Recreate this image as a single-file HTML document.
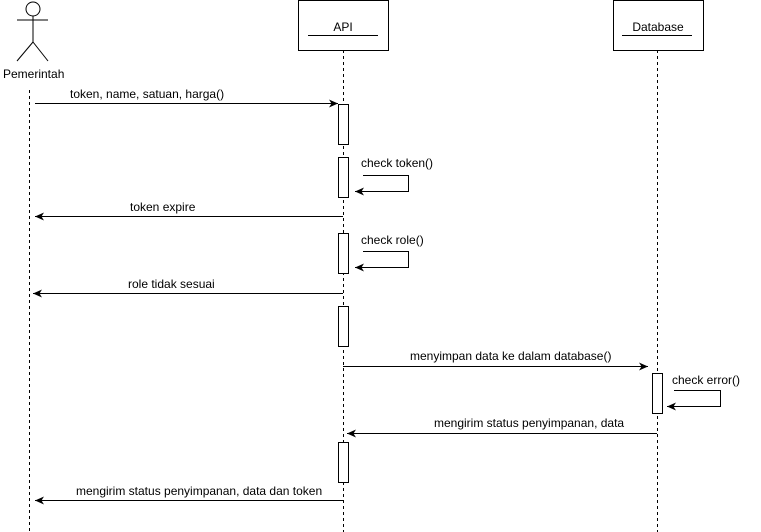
<!DOCTYPE html>
<html><head><meta charset="utf-8"><style>html,body{margin:0;padding:0;background:#fff}svg{display:block}</style></head>
<body>
<svg width="761" height="532" viewBox="0 0 761 532" xmlns="http://www.w3.org/2000/svg" font-family="Liberation Sans, Arial, sans-serif" font-size="12" fill="#000">
<defs><marker id="a" markerWidth="10" markerHeight="10" refX="9" refY="5" orient="auto" markerUnits="userSpaceOnUse"><path d="M0,1 L9,5 L0,9 L2.5,5 Z" fill="#000"/></marker></defs>
<g stroke="#000" fill="none">
<circle cx="33" cy="9" r="7"/>
<line x1="33" y1="16" x2="33" y2="42"/>
<line x1="17" y1="20" x2="48" y2="20"/>
<line x1="33" y1="42" x2="17" y2="61"/>
<line x1="33" y1="42" x2="48" y2="61"/>
<line x1="29.5" y1="90" x2="29.5" y2="532" stroke-dasharray="3,3"/>
<line x1="343.5" y1="50" x2="343.5" y2="532" stroke-dasharray="3,3"/>
<line x1="657.5" y1="50" x2="657.5" y2="532" stroke-dasharray="3,3"/>
<rect x="298.5" y="0.5" width="90" height="50" fill="#fff"/>
<line x1="308" y1="35.5" x2="378" y2="35.5"/>
<rect x="613.5" y="0.5" width="90" height="50" fill="#fff"/>
<line x1="622" y1="35.5" x2="692" y2="35.5"/>
<rect x="338.5" y="104.5" width="10" height="40" fill="#fff"/>
<rect x="338.5" y="157.5" width="10" height="40" fill="#fff"/>
<rect x="338.5" y="233.5" width="10" height="40" fill="#fff"/>
<rect x="338.5" y="306.5" width="10" height="40" fill="#fff"/>
<rect x="338.5" y="442.5" width="10" height="40" fill="#fff"/>
<rect x="652.5" y="373.5" width="10" height="40" fill="#fff"/>
<line x1="35" y1="103.5" x2="338" y2="103.5" marker-end="url(#a)"/>
<polyline points="363,175.5 408.5,175.5 408.5,191.5 355,191.5" marker-end="url(#a)"/>
<line x1="343" y1="216.5" x2="35" y2="216.5" marker-end="url(#a)"/>
<polyline points="363,251.5 408.5,251.5 408.5,267.5 355,267.5" marker-end="url(#a)"/>
<line x1="343" y1="293.5" x2="33" y2="293.5" marker-end="url(#a)"/>
<line x1="343" y1="366.5" x2="648" y2="366.5" marker-end="url(#a)"/>
<polyline points="674,390.5 720.5,390.5 720.5,406.5 667,406.5" marker-end="url(#a)"/>
<line x1="657" y1="433.5" x2="347" y2="433.5" marker-end="url(#a)"/>
<line x1="343" y1="500.5" x2="35" y2="500.5" marker-end="url(#a)"/>
</g>
<text x="3" y="78">Pemerintah</text>
<text x="343" y="31" text-anchor="middle">API</text>
<text x="658" y="31" text-anchor="middle">Database</text>
<text x="70" y="98">token, name, satuan, harga()</text>
<text x="361" y="167">check token()</text>
<text x="130" y="211">token expire</text>
<text x="361" y="244">check role()</text>
<text x="128" y="288">role tidak sesuai</text>
<text x="410" y="360">menyimpan data ke dalam database()</text>
<text x="672" y="384">check error()</text>
<text x="434" y="427">mengirim status penyimpanan, data</text>
<text x="76" y="495">mengirim status penyimpanan, data dan token</text>
</svg>
</body></html>
